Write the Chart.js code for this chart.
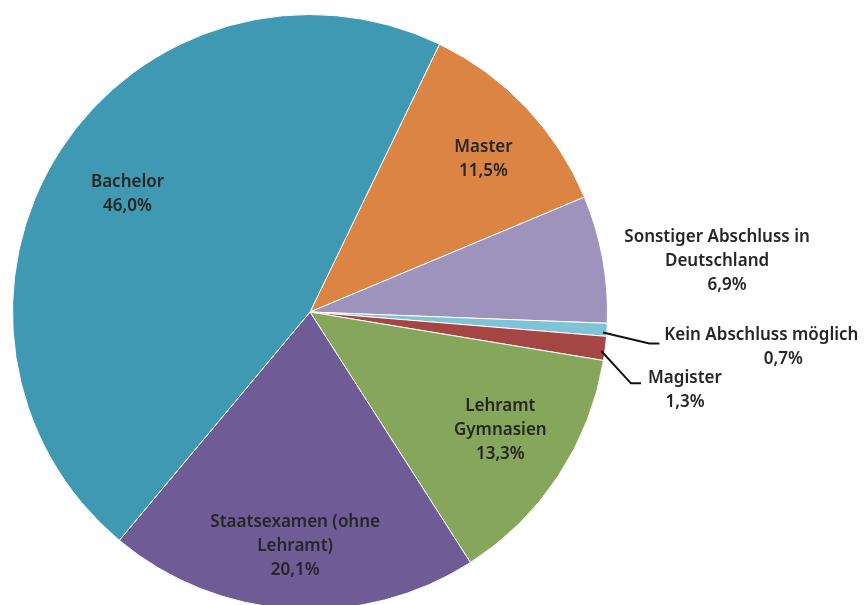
<!DOCTYPE html>
<html>
<head>
<meta charset="utf-8">
<script src="https://cdn.jsdelivr.net/npm/chart.js@4"></script>
<style>
    html, body { margin: 0; padding: 0; background: #fff; overflow: hidden; }
    #wrap { position: absolute; left: 0; top: 0; width: 867px; height: 624px; }
</style>
</head>
<body>
<div id="wrap"><canvas id="pieChart"></canvas></div>
<script>
// Abschlussarten, im Uhrzeigersinn ab "Master"
const categories = ['Master', 'Sonstiger Abschluss in Deutschland', 'Kein Abschluss möglich', 'Magister', 'Lehramt Gymnasien', 'Staatsexamen (ohne Lehramt)', 'Bachelor'];
const shares = [11.5, 6.9, 0.7, 1.3, 13.3, 20.1, 46.0];
const labelLines = [
    ['Master'],
    ['Sonstiger Abschluss in', 'Deutschland'],
    ['Kein Abschluss möglich'],
    ['Magister'],
    ['Lehramt', 'Gymnasien'],
    ['Staatsexamen (ohne', 'Lehramt)'],
    ['Bachelor']
];
const colors = ['#dc8444', '#9e93bd', '#7fc3d7', '#a64644', '#86a75b', '#6f5b95', '#4099b3'];

// Lage der Beschriftungen: Radiusfaktor + Verschiebung, optional Führungslinie
const labelLayout = [
    { rf: 0.78, dx: 5, dy: 7 },
    { rf: 1.37, dx: 6, dy: 22, pctDx: 10 },
    { rf: 1.52, dx: 0, dy: 8, pctDx: 22, leader: [[-112, -3.5], [-102, -3.5]] },
    { rf: 1.27, dx: 0, dy: 32, leader: [[-54, -7], [-44, -7]] },
    { rf: 0.75, dx: 4, dy: -5 },
    { rf: 0.79, dx: 0, dy: 0 },
    { rf: 0.73, dx: 0, dy: 0 }
];

function fmt(v) {
    return v.toFixed(1).replace('.', ',') + '%';
}

const sliceLabels = {
    id: 'sliceLabels',
    afterDatasetsDraw(chart) {
        const ctx = chart.ctx;
        const meta = chart.getDatasetMeta(0);
        ctx.save();
        ctx.font = '600 17px "Noto Sans"';
        ctx.fillStyle = '#262626';
        ctx.textAlign = 'center';
        ctx.textBaseline = 'middle';
        meta.data.forEach((arc, i) => {
            const p = arc.getProps(['x', 'y', 'startAngle', 'endAngle', 'outerRadius'], true);
            const mid = (p.startAngle + p.endAngle) / 2;
            const lay = labelLayout[i];
            const cx = p.x + Math.cos(mid) * p.outerRadius * lay.rf + lay.dx;
            const cy = p.y + Math.sin(mid) * p.outerRadius * lay.rf + lay.dy;
            const lines = labelLines[i].concat([fmt(shares[i])]);
            const lh = 24;
            const top = cy - (lines.length - 1) * lh / 2;
            lines.forEach((t, k) => {
                const shift = k === lines.length - 1 ? (lay.pctDx || 0) : 0;
                ctx.fillText(t, cx + shift, top + k * lh);
            });

            if (lay.leader) {
                ctx.strokeStyle = '#111';
                ctx.lineWidth = 2;
                ctx.beginPath();
                ctx.moveTo(p.x + Math.cos(mid) * (p.outerRadius - 4), p.y + Math.sin(mid) * (p.outerRadius - 4) + 3);
                ctx.lineTo(cx + lay.leader[0][0], cy + lay.leader[0][1]);
                ctx.lineTo(cx + lay.leader[1][0], cy + lay.leader[1][1]);
                ctx.stroke();
            }
        });
        ctx.restore();
    }
};

new Chart(document.getElementById('pieChart'), {
    type: 'pie',
    data: {
        labels: categories,
        datasets: [{
            data: shares,
            backgroundColor: colors,
            borderColor: '#ffffff',
            borderWidth: 1
        }]
    },
    options: {
        responsive: true,
        maintainAspectRatio: false,
        animation: false,
        rotation: 25.8,
        layout: { padding: { left: 12, top: 14, right: 259, bottom: 14 } },
        plugins: {
            legend: { display: false },
            tooltip: { enabled: false }
        }
    },
    plugins: [sliceLabels]
});
</script>
</body>
</html>
